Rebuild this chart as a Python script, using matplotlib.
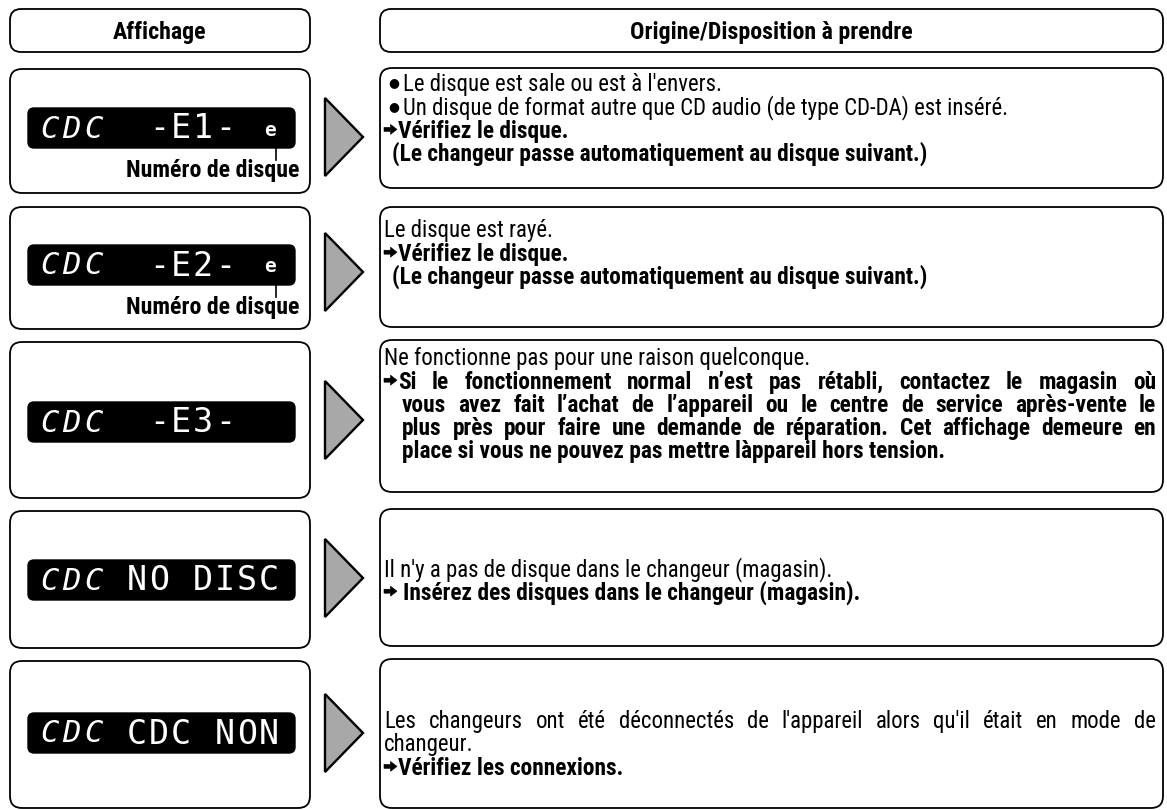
import matplotlib
matplotlib.use("Agg")
import matplotlib.pyplot as plt
from matplotlib.patches import FancyBboxPatch, Polygon
from matplotlib import font_manager as fm

W, H = 1167, 810

# ---- contenu ----
headers = ["Affichage", "Origine/Disposition à prendre"]
lcd_rows = ["CDC  -E1- e", "CDC  -E2- e", "CDC  -E3-  ", "CDC NO DISC", "CDC CDC NON"]
disc_label = "Numéro de disque"
label_rows = [0, 1]

right_rows = [
    [("bullet", "Le disque est sale ou est à l'envers."),
     ("bullet", "Un disque de format autre que CD audio (de type CD-DA) est inséré."),
     ("arrow", "Vérifiez le disque."),
     ("paren", "(Le changeur passe automatiquement au disque suivant.)")],
    [("plain", "Le disque est rayé."),
     ("arrow", "Vérifiez le disque."),
     ("paren", "(Le changeur passe automatiquement au disque suivant.)")],
    [("plain", "Ne fonctionne pas pour une raison quelconque."),
     ("arrow_j", "Si le fonctionnement normal n’est pas rétabli, contactez le magasin où"),
     ("cont_j", "vous avez fait l’achat de l’appareil ou le centre de service après-vente le"),
     ("cont_j", "plus près pour faire une demande de réparation. Cet affichage demeure en"),
     ("cont", "place si vous ne pouvez pas mettre làppareil hors tension.")],
    [("plain", "Il n'y a pas de disque dans le changeur (magasin)."),
     ("arrow_sp", "Insérez des disques dans le changeur (magasin).")],
    [("plain_j", "Les changeurs ont été déconnectés de l'appareil alors qu'il était en mode de"),
     ("plain", "changeur."),
     ("arrow", "Vérifiez les connexions.")],
]

# ---- mise en page (pixels) ----
row_top = [69, 207, 342, 511, 661]
row_bot = [193, 329, 498, 648, 808]
rrow_top = [68, 207, 340, 509, 659]
rrow_bot = [188, 327, 492, 646, 808]
lcd_mid = [128, 265, 422, 580, 733]
tri_mid = [137, 272, 420, 578, 733]
first_line = [83, 229, 357, 568, 720]
line_gap = 23.2
LX0, LX1 = 10, 310
RX0, RX1 = 380, 1163
JUST_R = 1156

avail = {f.name for f in fm.fontManager.ttflist}
COND = next((n for n in ["Roboto Condensed", "Liberation Sans Narrow",
                         "DejaVu Sans Condensed", "Open Sans Condensed"] if n in avail),
            "Liberation Sans")
FAM = [COND, "DejaVu Sans"]

fig = plt.figure(figsize=(W / 100, H / 100), dpi=100)
ax = fig.add_axes([0, 0, 1, 1])
ax.set_xlim(0, W)
ax.set_ylim(H, 0)
ax.axis("off")
renderer = fig.canvas.get_renderer()


def rbox(x0, y0, x1, y1, r, **kw):
    ax.add_patch(FancyBboxPatch((x0, y0), x1 - x0, y1 - y0,
                                boxstyle=f"round,pad=0,rounding_size={r}", **kw))


def width(t):
    return t.get_window_extent(renderer).width


def fit_size(txt, target, weight, start=14):
    t = ax.text(0, 0, txt, fontsize=start, family=FAM, weight=weight)
    w = width(t)
    t.remove()
    return start * target / w


SZ_N = fit_size("Un disque de format autre que CD audio (de type CD-DA) est inséré.", 608, "normal")
SZ_B = fit_size("(Le changeur passe automatiquement au disque suivant.)", 540, "bold")
SZ_L = fit_size(disc_label, 174, "bold")


def base(yc, sz):
    return yc + 0.36 * sz * 100 / 72


def justify(words, x0, x1, y, **kw):
    ts = [ax.text(0, y, w, **kw) for w in words]
    ws = [width(t) for t in ts]
    gap = (x1 - x0 - sum(ws)) / (len(ws) - 1)
    x = x0
    for t, w in zip(ts, ws):
        t.set_x(x)
        x += w + gap


def arrow(x, yc):
    ax.add_patch(Polygon([[x, yc - 2], [x + 6.5, yc - 2], [x + 6.5, yc - 5],
                          [x + 13, yc], [x + 6.5, yc + 5], [x + 6.5, yc + 2],
                          [x, yc + 2]], closed=True, fc="black", ec="black", lw=0.4))


# en-têtes
for (x0, x1), txt in zip([(LX0, LX1), (RX0, RX1)], headers):
    rbox(x0, 9, x1, 52, 11, fc="white", ec="black", lw=1.3)
    ax.text((x0 + x1) / 2, base(30, SZ_L), txt, ha="center", va="baseline",
            fontsize=SZ_L, family=FAM, weight="bold")

for i in range(5):
    rbox(LX0, row_top[i], LX1, row_bot[i], 12, fc="white", ec="black", lw=1.3)
    rbox(RX0, rrow_top[i], RX1, rrow_bot[i], 12, fc="white", ec="black", lw=1.3)

    # afficheur
    yc = lcd_mid[i]
    rbox(28, yc - 20, 295, yc + 20, 6, fc="black", ec="black", lw=1)
    for k, ch in enumerate(lcd_rows[i]):
        if ch == " ":
            continue
        cx = 38 + 22 * k + 11
        if ch == "e":
            ax.text(cx + 1, yc + 2, ch, ha="center", va="center", color="white",
                    fontsize=14, family="DejaVu Sans Mono", weight="bold")
        elif k < 3:
            ax.text(cx, yc + 1, ch, ha="center", va="center", color="white",
                    fontsize=22, family="DejaVu Sans Mono", style="oblique")
        else:
            ax.text(cx, yc + 1, ch, ha="center", va="center", color="white",
                    fontsize=24, family="DejaVu Sans Mono")
    if i in label_rows:
        ax.plot([276, 276], [yc + 20, yc + 32], color="black", lw=1.2)
        ax.text(299, yc + 20 + 29, disc_label, ha="right", va="baseline",
                fontsize=SZ_L, family=FAM, weight="bold")

    # flèche triangle
    tm = tri_mid[i]
    ax.add_patch(Polygon([[325, tm - 39], [363, tm], [325, tm + 39]], closed=True,
                         fc="#a8a8a8", ec="black", lw=1.7, joinstyle="miter"))

    # texte explicatif
    for j, (kind, txt) in enumerate(right_rows[i]):
        yl = first_line[i] + j * line_gap
        if kind == "bullet":
            ax.text(394, yl, "●", ha="center", va="center", fontsize=SZ_N * 0.55,
                    family="DejaVu Sans")
            ax.text(403, base(yl, SZ_N), txt, va="baseline", fontsize=SZ_N, family=FAM)
        elif kind == "plain":
            ax.text(384, base(yl, SZ_N), txt, va="baseline", fontsize=SZ_N, family=FAM)
        elif kind == "plain_j":
            justify(txt.split(), 384, JUST_R, base(yl, SZ_N), va="baseline",
                    fontsize=SZ_N, family=FAM)
        elif kind in ("arrow", "arrow_sp", "arrow_j"):
            arrow(384, yl)
            xs = 403 if kind == "arrow_sp" else 398
            if kind == "arrow_j":
                justify(txt.split(), xs, JUST_R, base(yl, SZ_B), va="baseline",
                        fontsize=SZ_B, family=FAM, weight="bold")
            else:
                ax.text(xs, base(yl, SZ_B), txt, va="baseline", fontsize=SZ_B,
                        family=FAM, weight="bold")
        elif kind == "paren":
            ax.text(392, base(yl, SZ_B), txt, va="baseline", fontsize=SZ_B,
                    family=FAM, weight="bold")
        elif kind == "cont_j":
            justify(txt.split(), 402, JUST_R, base(yl, SZ_B), va="baseline",
                    fontsize=SZ_B, family=FAM, weight="bold")
        elif kind == "cont":
            ax.text(402, base(yl, SZ_B), txt, va="baseline", fontsize=SZ_B,
                    family=FAM, weight="bold")

fig.savefig("out.png", dpi=100)
